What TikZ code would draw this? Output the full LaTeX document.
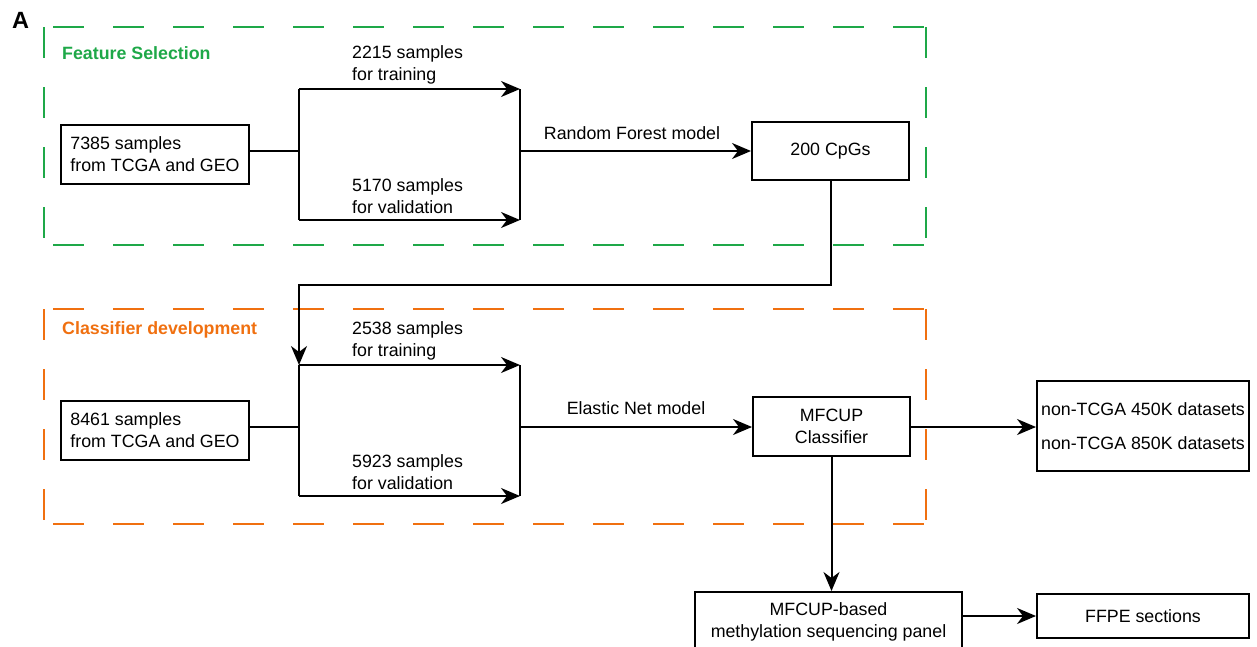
\documentclass[tikz,border=0pt]{standalone}
\usepackage{fontspec}
\setmainfont{Liberation Sans}
\usetikzlibrary{arrows.meta}
\definecolor{fsgreen}{RGB}{30,168,72}
\definecolor{cdorange}{RGB}{240,112,16}
\begin{document}
\begin{tikzpicture}[x=1pt,y=-1pt,
  every node/.style={font=\fontsize{17.8}{22}\selectfont, inner sep=0pt},
  box/.style={draw, line width=2pt},
  conn/.style={line width=2pt},
  arr/.style={conn, -{Stealth[length=19pt,width=16pt,inset=6pt]}},
  frame/.style={line width=2pt, dash pattern=on 31pt off 29pt},
  hframe/.style={frame, dash phase=51pt},
  title/.style={anchor=west, font=\fontsize{17.8}{22}\selectfont\bfseries},
  lab/.style={anchor=west, align=left},
]
\useasboundingbox (0,0) rectangle (1257,646);

% panel letter
\node[font=\fontsize{23.5}{27}\selectfont\bfseries] (letterA) at (20.5,20.5) {A};

% dashed frames
\draw[frame, fsgreen] (44,27) -- (44,245);
\draw[frame, fsgreen] (926,27) -- (926,245);
\draw[hframe, fsgreen] (44,27) -- (926,27);
\draw[hframe, fsgreen] (44,245) -- (926,245);
\draw[frame, cdorange] (44,309) -- (44,524);
\draw[frame, cdorange] (926,309) -- (926,524);
\draw[hframe, cdorange] (44,309) -- (926,309);
\draw[hframe, cdorange] (44,524) -- (926,524);

\node[title, text=fsgreen] (tfs) at (62,53) {Feature Selection};
\node[title, text=cdorange] (tcd) at (62,330) {Classifier development};

% boxes
\node[box, minimum width=188pt, minimum height=59pt, align=left] (s7385) at (155,154.5) {7385 samples\\from TCGA and GEO};
\node[box, minimum width=157pt, minimum height=58pt] (cpg) at (830.5,151) {200 CpGs};
\node[box, minimum width=188pt, minimum height=59pt, align=left] (s8461) at (155,430.5) {8461 samples\\from TCGA and GEO};
\node[box, minimum width=157pt, minimum height=59pt, align=center] (mfcup) at (831.5,426.5) {MFCUP\\Classifier};
\node[box, minimum width=212pt, minimum height=90pt, align=center] (nontcga) at (1143,426) {non-TCGA 450K datasets\\[12pt]non-TCGA 850K datasets};
\node[box, minimum width=267pt, minimum height=59pt, align=center] (panel) at (828.5,621.5) {MFCUP-based\\methylation sequencing panel};
\node[box, minimum width=212pt, minimum height=44pt] (ffpe) at (1143,616) {FFPE sections};

% labels
\node[lab] (l2215) at (352,65) {2215 samples\\for training};
\node[lab] (l5170) at (352,196) {5170 samples\\for validation};
\node (lrf) at (632,133) {Random Forest model};
\node[lab] (l2538) at (352,341) {2538 samples\\for training};
\node[lab] (l5923) at (352,472) {5923 samples\\for validation};
\node (len) at (636,408) {Elastic Net model};

% junction coordinates
\coordinate (a1) at (299,151);
\coordinate (a1t) at (299,89);
\coordinate (a1b) at (299,220);
\coordinate (b1t) at (520,89);
\coordinate (b1b) at (520,220);
\coordinate (b1) at (520,151);
\coordinate (k1) at (830.5,285);
\coordinate (k2) at (299,285);
\coordinate (a2) at (299,427);
\coordinate (a2t) at (299,365);
\coordinate (a2b) at (299,496);
\coordinate (b2t) at (520,365);
\coordinate (b2b) at (520,496);
\coordinate (b2) at (520,427);

% upper split
\draw[conn] (s7385.east |- a1) -- (a1);
\draw[conn] (a1t) -- (a1b);
\draw[arr] (a1t) -- (b1t);
\draw[arr] (a1b) -- (b1b);
\draw[conn] (b1t) -- (b1b);
\draw[arr] (b1) -- (cpg.west);

% link between stages
\draw[arr] (cpg.south) -- (k1) -- (k2) -- (a2t);

% lower split
\draw[conn] (s8461.east |- a2) -- (a2);
\draw[conn] (a2t) -- (a2b);
\draw[arr] (a2t) -- (b2t);
\draw[arr] (a2b) -- (b2b);
\draw[conn] (b2t) -- (b2b);
\draw[arr] (b2) -- (mfcup.west |- b2);

% outputs
\draw[arr] (mfcup.east |- b2) -- (nontcga.west |- b2);
\draw[arr] (mfcup.south) -- (mfcup.south |- panel.north);
\draw[arr] (panel.east |- ffpe.west) -- (ffpe.west);
\end{tikzpicture}
\end{document}
